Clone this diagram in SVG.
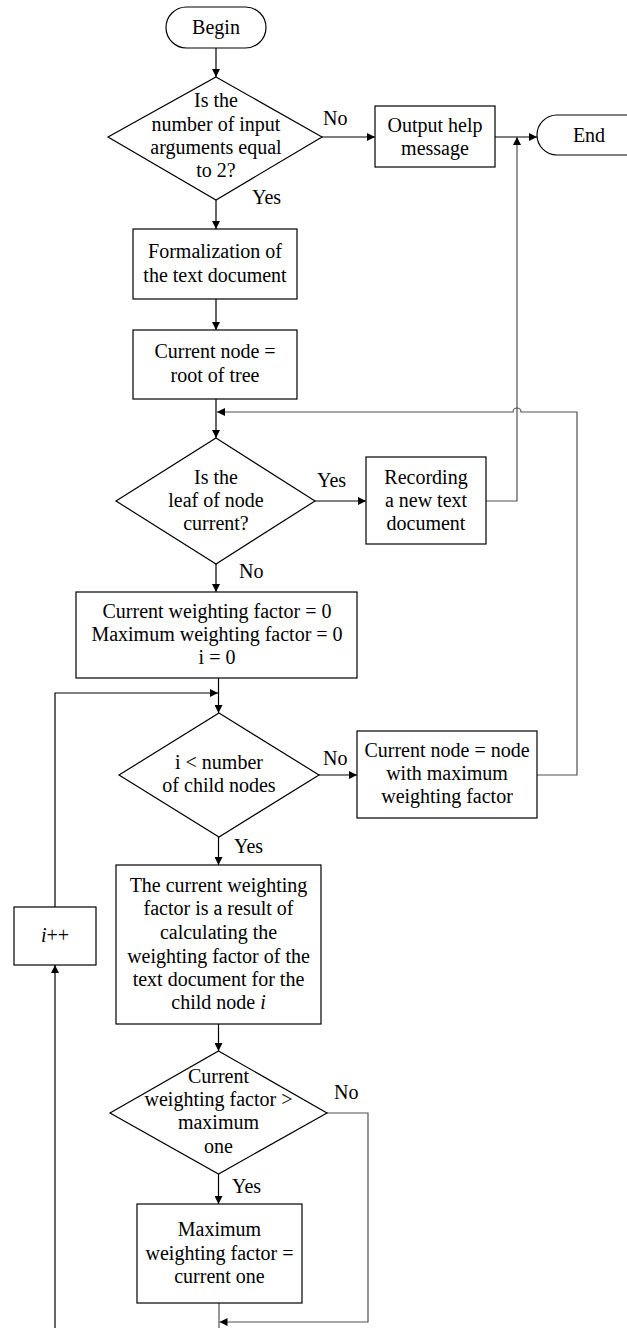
<svg xmlns="http://www.w3.org/2000/svg" width="627" height="1328" viewBox="0 0 627 1328">
  <defs>
    <marker id="arrow" viewBox="0 0 10 10" refX="10" refY="5" markerUnits="userSpaceOnUse" markerWidth="9" markerHeight="8" orient="auto">
      <path d="M0,0 L10,5 L0,10 z" fill="#000"/>
    </marker>
  </defs>
  <style>
    .shape { fill: #fff; stroke: #000; stroke-width: 1.2; }
    .line { fill: none; stroke: #000; stroke-width: 1.2; }
    .back { fill: none; stroke: #505050; stroke-width: 1.2; }
    text { font-family: "Liberation Serif", "Times New Roman", serif; font-size: 20px; fill: #000; }
    .c { text-anchor: middle; }
  </style>
  <rect width="627" height="1328" fill="#fff"/>

  <!-- connectors -->
  <g id="connectors">
    <path class="line" d="M216,48 V77" marker-end="url(#arrow)"/>
    <path class="line" d="M322,137 H375" marker-end="url(#arrow)"/>
    <path class="line" d="M495,137 H537" marker-end="url(#arrow)"/>
    <path class="line" d="M216,200 V229" marker-end="url(#arrow)"/>
    <path class="line" d="M216,299 V330" marker-end="url(#arrow)"/>
    <path class="line" d="M216,399 V438" marker-end="url(#arrow)"/>
    <path class="line" d="M315,501 H366" marker-end="url(#arrow)"/>
    <path class="back" d="M486,501 H517 V137" marker-end="url(#arrow)"/>
    <path class="line" d="M216,564 V592" marker-end="url(#arrow)"/>
    <path class="line" d="M218.5,678 V713" marker-end="url(#arrow)"/>
    <path class="line" d="M319,775 H357" marker-end="url(#arrow)"/>
    <path class="back" d="M537,775 H577 V412 H521 A4,4 0 0 0 513,412 H217" marker-end="url(#arrow)"/>
    <path class="line" d="M218.5,837 V865" marker-end="url(#arrow)"/>
    <path class="line" d="M218.5,1024 V1051" marker-end="url(#arrow)"/>
    <path class="line" d="M218.5,1174 V1204" marker-end="url(#arrow)"/>
    <path class="back" d="M327,1113 H368 V1322 H219.5" marker-end="url(#arrow)"/>
    <path class="back" d="M219,1303 V1328"/>
    <path class="line" d="M55,1328 V965" marker-end="url(#arrow)"/>
    <path class="line" d="M55,907 V693 H218" marker-end="url(#arrow)"/>

    <text x="323" y="125">No</text>
    <text x="252" y="204">Yes</text>
    <text x="317" y="487">Yes</text>
    <text x="239" y="578">No</text>
    <text x="323" y="765">No</text>
    <text x="234" y="853">Yes</text>
    <text x="334" y="1099">No</text>
    <text x="232" y="1193">Yes</text>
  </g>

  <g id="begin">
    <rect class="shape" x="166" y="7" width="100" height="41" rx="20.5"/>
    <text class="c" x="216" y="34">Begin</text>
  </g>

  <g id="check-args">
    <polygon class="shape" points="216,77 322,137 216,200 108,137"/>
    <text class="c" x="216" y="107">Is the</text>
    <text class="c" x="216" y="131">number of input</text>
    <text class="c" x="216" y="154">arguments equal</text>
    <text class="c" x="216" y="177">to 2?</text>
  </g>

  <g id="output-help">
    <rect class="shape" x="375" y="106" width="120" height="61"/>
    <text class="c" x="435" y="132">Output help</text>
    <text class="c" x="435" y="155">message</text>
  </g>

  <g id="end">
    <rect class="shape" x="537" y="115" width="130" height="40" rx="20"/>
    <text class="c" x="589" y="142">End</text>
  </g>

  <g id="formalization">
    <rect class="shape" x="133" y="229" width="164" height="70"/>
    <text class="c" x="215" y="258">Formalization of</text>
    <text class="c" x="215" y="282">the text document</text>
  </g>

  <g id="root-node">
    <rect class="shape" x="133" y="330" width="164" height="69"/>
    <text class="c" x="215" y="358">Current node =</text>
    <text class="c" x="215" y="382">root of tree</text>
  </g>

  <g id="check-leaf">
    <polygon class="shape" points="216,438 315,501 216,564 116,501"/>
    <text class="c" x="216" y="484">Is the</text>
    <text class="c" x="216" y="507">leaf of node</text>
    <text class="c" x="216" y="530">current?</text>
  </g>

  <g id="recording">
    <rect class="shape" x="366" y="457" width="120" height="87"/>
    <text class="c" x="426" y="484">Recording</text>
    <text class="c" x="426" y="507">a new text</text>
    <text class="c" x="426" y="530">document</text>
  </g>

  <g id="init-factors">
    <rect class="shape" x="76" y="592" width="281" height="86"/>
    <text class="c" x="217" y="618">Current weighting factor = 0</text>
    <text class="c" x="217" y="641">Maximum weighting factor = 0</text>
    <text class="c" x="217" y="664">i = 0</text>
  </g>

  <g id="check-children">
    <polygon class="shape" points="219,713 319,775 219,837 119,775"/>
    <text class="c" x="219" y="769">i &lt; number</text>
    <text class="c" x="219" y="792">of child nodes</text>
  </g>

  <g id="select-node">
    <rect class="shape" x="357" y="731" width="180" height="87"/>
    <text class="c" x="447" y="757">Current node = node</text>
    <text class="c" x="447" y="780">with maximum</text>
    <text class="c" x="447" y="803">weighting factor</text>
  </g>

  <g id="increment">
    <rect class="shape" x="14" y="907" width="82" height="58"/>
    <text class="c" x="55" y="942"><tspan font-style="italic">i</tspan>++</text>
  </g>

  <g id="calc-factor">
    <rect class="shape" x="116" y="865" width="205" height="159"/>
    <text class="c" x="218.5" y="892">The current weighting</text>
    <text class="c" x="218.5" y="915">factor is a result of</text>
    <text class="c" x="218.5" y="939">calculating the</text>
    <text class="c" x="218.5" y="963">weighting factor of the</text>
    <text class="c" x="218.5" y="986">text document for the</text>
    <text class="c" x="218.5" y="1009">child node <tspan font-style="italic">i</tspan></text>
  </g>

  <g id="compare-max">
    <polygon class="shape" points="218.5,1051 327,1113 218.5,1174 110,1113"/>
    <text class="c" x="218.5" y="1083">Current</text>
    <text class="c" x="218.5" y="1106">weighting factor &gt;</text>
    <text class="c" x="218.5" y="1129">maximum</text>
    <text class="c" x="218.5" y="1153">one</text>
  </g>

  <g id="update-max">
    <rect class="shape" x="137" y="1204" width="165" height="99"/>
    <text class="c" x="219.5" y="1236">Maximum</text>
    <text class="c" x="219.5" y="1260">weighting factor =</text>
    <text class="c" x="219.5" y="1283">current one</text>
  </g>
</svg>
